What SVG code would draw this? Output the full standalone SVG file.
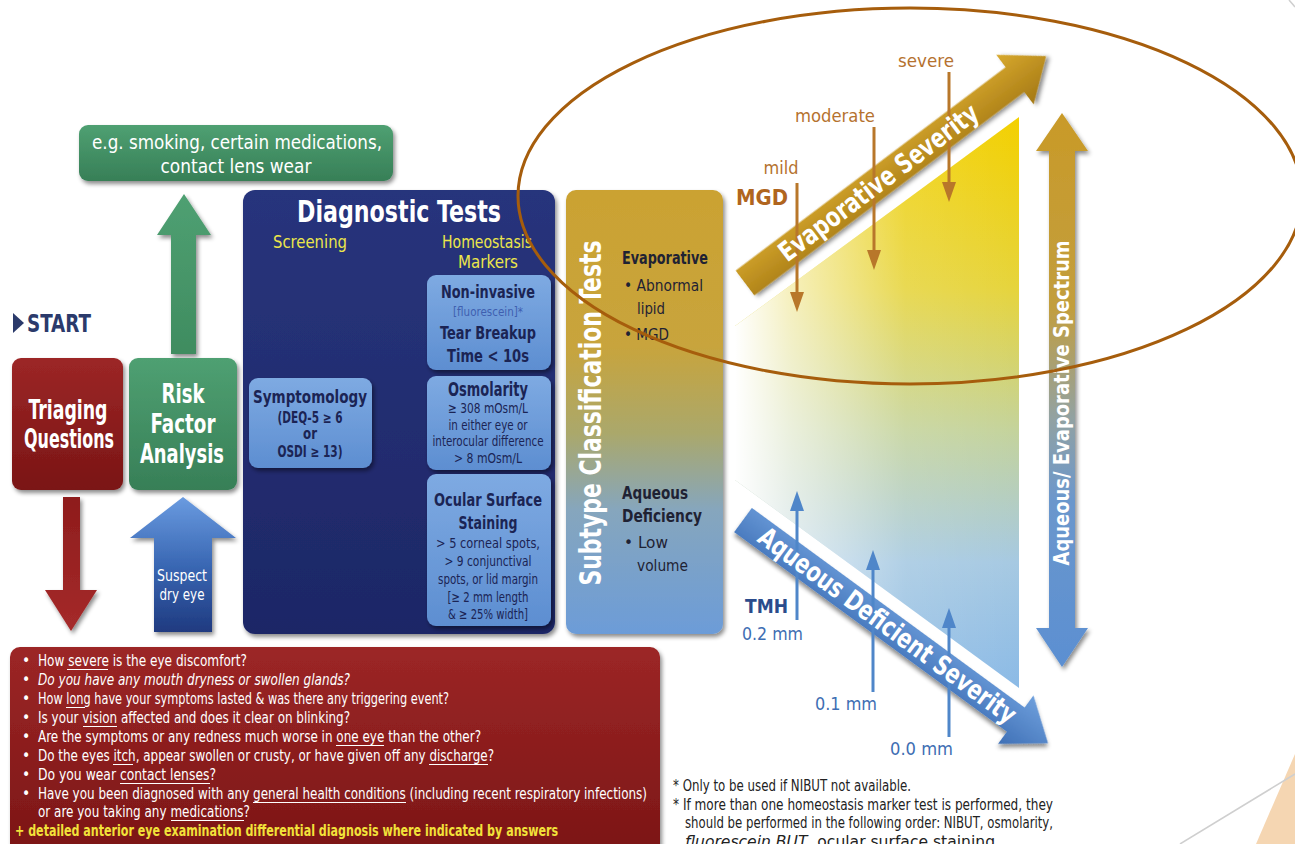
<svg xmlns="http://www.w3.org/2000/svg" width="1295" height="844" viewBox="0 0 1295 844">
<defs>
<style>
.t{font-family:"Liberation Sans Narrow","DejaVu Sans Condensed","Liberation Sans",Arial,sans-serif}
.b{font-weight:bold}
.w{fill:#ffffff}
.nv{fill:#1b2454}
.y{fill:#ece64a}
.q{font-size:15.5px;fill:#ffffff}
.fn{font-size:15px;fill:#222222}
.brn{fill:#b5722f}
.bl{fill:#3e6eb3}
.ul{stroke:#ffffff;stroke-width:1}
</style>
<filter id="sh" x="-10%" y="-10%" width="130%" height="130%"><feDropShadow dx="2" dy="3" stdDeviation="2" flood-color="#000" flood-opacity="0.45"/></filter>
<linearGradient id="gRed" x1="0" y1="0" x2="0" y2="1"><stop offset="0" stop-color="#9c2626"/><stop offset="1" stop-color="#7a1515"/></linearGradient>
<linearGradient id="gGreen" x1="0" y1="0" x2="0" y2="1"><stop offset="0" stop-color="#4fa072"/><stop offset="1" stop-color="#377f57"/></linearGradient>
<linearGradient id="gGreenA" x1="0" y1="0" x2="0" y2="1"><stop offset="0" stop-color="#4fa072"/><stop offset="1" stop-color="#3f8c60"/></linearGradient>
<linearGradient id="gNavy" x1="0" y1="0" x2="0" y2="1"><stop offset="0" stop-color="#28347c"/><stop offset="1" stop-color="#1d2766"/></linearGradient>
<linearGradient id="gLB" x1="0" y1="0" x2="0" y2="1"><stop offset="0" stop-color="#7eaae2"/><stop offset="1" stop-color="#5d8ed1"/></linearGradient>
<linearGradient id="gBlueUp" x1="0" y1="0" x2="0" y2="1"><stop offset="0" stop-color="#6a9be0"/><stop offset="0.5" stop-color="#3a68b4"/><stop offset="1" stop-color="#1f3a80"/></linearGradient>
<linearGradient id="gRedDn" x1="0" y1="0" x2="0" y2="1"><stop offset="0" stop-color="#8e1c1c"/><stop offset="1" stop-color="#a52a2a"/></linearGradient>
<linearGradient id="gSub" x1="0" y1="0" x2="0" y2="1"><stop offset="0" stop-color="#cba232"/><stop offset="0.35" stop-color="#c8a43c"/><stop offset="0.55" stop-color="#aaa86c"/><stop offset="0.72" stop-color="#86a6bd"/><stop offset="1" stop-color="#6c9cd8"/></linearGradient>
<linearGradient id="gGold" x1="0" y1="0" x2="0" y2="1"><stop offset="0" stop-color="#d8a92e"/><stop offset="1" stop-color="#a47814"/></linearGradient>
<linearGradient id="gAq" x1="0" y1="0" x2="0" y2="1"><stop offset="0" stop-color="#6e9fdc"/><stop offset="1" stop-color="#3f70b6"/></linearGradient>
<linearGradient id="gSpec" x1="0" y1="0" x2="0" y2="1"><stop offset="0" stop-color="#c99a28"/><stop offset="0.35" stop-color="#c29e3e"/><stop offset="0.55" stop-color="#92a2a2"/><stop offset="0.7" stop-color="#6b97cc"/><stop offset="1" stop-color="#5b8fd2"/></linearGradient>
<linearGradient id="gTri" gradientUnits="userSpaceOnUse" x1="0" y1="117" x2="0" y2="688"><stop offset="0" stop-color="#f3d000"/><stop offset="0.3" stop-color="#e6d43c"/><stop offset="0.55" stop-color="#c4d39c"/><stop offset="0.78" stop-color="#a6c9e2"/><stop offset="1" stop-color="#8bbae6"/></linearGradient>
<linearGradient id="gFade" gradientUnits="userSpaceOnUse" x1="735" y1="0" x2="1019" y2="0"><stop offset="0" stop-color="#fff" stop-opacity="1"/><stop offset="0.2" stop-color="#fff" stop-opacity="0.65"/><stop offset="0.6" stop-color="#fff" stop-opacity="0.12"/><stop offset="1" stop-color="#fff" stop-opacity="0"/></linearGradient>
<marker id="mBr" viewBox="0 0 20 14" markerUnits="userSpaceOnUse" markerWidth="20" markerHeight="14" refX="8" refY="7" orient="auto"><path d="M0,0 L20,7 L0,14 Z" fill="#b8772a"/></marker>
<marker id="mBl" viewBox="0 0 20 14" markerUnits="userSpaceOnUse" markerWidth="20" markerHeight="14" refX="8" refY="7" orient="auto"><path d="M0,0 L20,7 L0,14 Z" fill="#4f86c9"/></marker>
</defs>
<rect width="1295" height="844" fill="#ffffff"/>

<polygon points="1256,844 1295,754 1295,844" fill="#f5d6b2"/>
<line x1="1180" y1="844" x2="1295" y2="774" stroke="#cfcfcf" stroke-width="1.5"/>
<line x1="1289" y1="0" x2="1295" y2="7" stroke="#cfcfcf" stroke-width="1.5"/>

<g id="spectrum-area">
<polygon points="735,326 1019,117 1019,688 735,480" fill="url(#gTri)"/>
<polygon points="735,326 1019,117 1019,688 735,480" fill="url(#gFade)"/>
</g>

<g id="connectors">
<path d="M171,354 L171,235 L157,235 L184,194 L211,235 L196,235 L196,354 Z" fill="url(#gGreenA)" filter="url(#sh)"/>
<path d="M63,497 L80,497 L80,590 L97,590 L71,631 L45,590 L63,590 Z" fill="url(#gRedDn)" filter="url(#sh)"/>
<path d="M154,632 L154,538 L130,538 L183,497 L236,538 L212,538 L212,632 Z" fill="url(#gBlueUp)" filter="url(#sh)"/>
<path d="M375,406 L412,406 L412,395 L431,423 L412,452 L412,440 L375,440 Z" fill="url(#gRed)" filter="url(#sh)"/>
<g transform="translate(745,283) rotate(-37)">
<path d="M0,-15.5 L338,-15.5 L338,-31 L377,0 L338,31 L338,15.5 L0,15.5 Z" fill="url(#gGold)" filter="url(#sh)"/>
</g>
<g transform="translate(743,520) rotate(36.2)">
<path d="M0,-15 L338,-15 L338,-30 L378,0 L338,30 L338,15 L0,15 Z" fill="url(#gAq)" filter="url(#sh)"/>
</g>
<path d="M1062,113 L1088,151 L1075,151 L1075,628 L1088,628 L1062,667 L1036,628 L1049,628 L1049,151 L1036,151 Z" fill="url(#gSpec)" filter="url(#sh)"/>
<line x1="797" y1="183" x2="797" y2="300" stroke="#b8772a" stroke-width="3" marker-end="url(#mBr)"/>
<line x1="874" y1="127" x2="874" y2="258" stroke="#b8772a" stroke-width="3" marker-end="url(#mBr)"/>
<line x1="949" y1="72" x2="949" y2="190" stroke="#b8772a" stroke-width="3" marker-end="url(#mBr)"/>
<line x1="797" y1="620" x2="797" y2="503" stroke="#4f86c9" stroke-width="3" marker-end="url(#mBl)"/>
<line x1="873" y1="692" x2="873" y2="562" stroke="#4f86c9" stroke-width="3" marker-end="url(#mBl)"/>
<line x1="949" y1="737" x2="949" y2="620" stroke="#4f86c9" stroke-width="3" marker-end="url(#mBl)"/>
</g>

<g id="arrow-labels" class="t b w">
<text x="397" y="428" font-size="17" text-anchor="middle" textLength="43" lengthAdjust="spacingAndGlyphs">+1 of</text>
<text class="t" font-weight="normal" x="182" y="581" font-size="15" text-anchor="middle" textLength="50" lengthAdjust="spacingAndGlyphs">Suspect</text>
<text class="t" font-weight="normal" x="182" y="600" font-size="15" text-anchor="middle" textLength="45" lengthAdjust="spacingAndGlyphs">dry eye</text>
<text transform="translate(884,190) rotate(-37)" font-size="27" text-anchor="middle" textLength="242" lengthAdjust="spacingAndGlyphs">Evaporative Severity</text>
<text transform="translate(882,633) rotate(36.2)" font-size="27" text-anchor="middle" textLength="312" lengthAdjust="spacingAndGlyphs">Aqueous Deficient Severity</text>
<text transform="translate(1069,403) rotate(-90)" font-size="21" text-anchor="middle" textLength="325" lengthAdjust="spacingAndGlyphs">Aqueous/ Evaporative Spectrum</text>
</g>

<g id="scale-labels" class="t">
<text class="brn" x="926" y="67" font-size="17" text-anchor="middle" textLength="56" lengthAdjust="spacingAndGlyphs">severe</text>
<text class="brn" x="835" y="122" font-size="17" text-anchor="middle" textLength="80" lengthAdjust="spacingAndGlyphs">moderate</text>
<text class="brn" x="781" y="174" font-size="17" text-anchor="middle" textLength="35" lengthAdjust="spacingAndGlyphs">mild</text>
<text x="736" y="205" font-size="21" font-weight="bold" fill="#b0651e" textLength="52" lengthAdjust="spacingAndGlyphs">MGD</text>
<text x="745" y="613" font-size="20" font-weight="bold" fill="#2b4c8c" textLength="43" lengthAdjust="spacingAndGlyphs">TMH</text>
<text class="bl" x="742" y="640" font-size="17" textLength="61" lengthAdjust="spacingAndGlyphs">0.2 mm</text>
<text class="bl" x="815" y="710" font-size="17" textLength="62" lengthAdjust="spacingAndGlyphs">0.1 mm</text>
<text class="bl" x="890" y="755" font-size="17" textLength="63" lengthAdjust="spacingAndGlyphs">0.0 mm</text>
</g>

<g id="start" class="t b">
<polygon points="13,313 24,323 13,333" fill="#2b3a6b"/>
<text x="27" y="332" font-size="24" fill="#2b3a6b" textLength="64" lengthAdjust="spacingAndGlyphs">START</text>
</g>

<g id="risk-examples">
<rect x="79" y="125" width="314" height="56" rx="9" fill="url(#gGreen)" filter="url(#sh)"/>
<text class="t w" x="237" y="149" font-size="20" text-anchor="middle" textLength="290" lengthAdjust="spacingAndGlyphs">e.g. smoking, certain medications,</text>
<text class="t w" x="236" y="173" font-size="20" text-anchor="middle" textLength="151" lengthAdjust="spacingAndGlyphs">contact lens wear</text>
</g>

<g id="triaging">
<rect x="12" y="358" width="111" height="132" rx="9" fill="url(#gRed)" filter="url(#sh)"/>
<text class="t b w" x="68" y="419" font-size="26" text-anchor="middle" textLength="79" lengthAdjust="spacingAndGlyphs">Triaging</text>
<text class="t b w" x="69" y="448" font-size="26" text-anchor="middle" textLength="90" lengthAdjust="spacingAndGlyphs">Questions</text>
</g>

<g id="risk-factor">
<rect x="129" y="358" width="108" height="132" rx="9" fill="url(#gGreen)" filter="url(#sh)"/>
<text class="t b w" x="183" y="403" font-size="26" text-anchor="middle" textLength="43" lengthAdjust="spacingAndGlyphs">Risk</text>
<text class="t b w" x="183" y="433" font-size="26" text-anchor="middle" textLength="65" lengthAdjust="spacingAndGlyphs">Factor</text>
<text class="t b w" x="182" y="463" font-size="26" text-anchor="middle" textLength="84" lengthAdjust="spacingAndGlyphs">Analysis</text>
</g>

<g id="diagnostic-tests">
<rect x="243" y="190" width="312" height="444" rx="12" fill="url(#gNavy)" filter="url(#sh)"/>
<text class="t b w" x="399" y="222" font-size="30" text-anchor="middle" textLength="204" lengthAdjust="spacingAndGlyphs">Diagnostic Tests</text>
<text class="t y" x="310" y="248" font-size="18" text-anchor="middle" textLength="74" lengthAdjust="spacingAndGlyphs">Screening</text>
<text class="t y" x="487" y="248" font-size="18" text-anchor="middle" textLength="90" lengthAdjust="spacingAndGlyphs">Homeostasis</text>
<text class="t y" x="488" y="268" font-size="18" text-anchor="middle" textLength="60" lengthAdjust="spacingAndGlyphs">Markers</text>
</g>

<g id="symptomology">
<rect x="249" y="378" width="123" height="90" rx="9" fill="url(#gLB)" filter="url(#sh)"/>
<text class="t b nv" x="310" y="403" font-size="18" text-anchor="middle" textLength="114" lengthAdjust="spacingAndGlyphs">Symptomology</text>
<text class="t b nv" x="310" y="423" font-size="15" text-anchor="middle" textLength="65" lengthAdjust="spacingAndGlyphs">(DEQ-5 ≥ 6</text>
<text class="t b nv" x="310" y="439" font-size="15" text-anchor="middle" textLength="14" lengthAdjust="spacingAndGlyphs">or</text>
<text class="t b nv" x="310" y="457" font-size="15" text-anchor="middle" textLength="65" lengthAdjust="spacingAndGlyphs">OSDI ≥ 13)</text>
</g>

<g id="tbut">
<rect x="427" y="275" width="124" height="95" rx="9" fill="url(#gLB)" filter="url(#sh)"/>
<text class="t b nv" x="488" y="298" font-size="18" text-anchor="middle" textLength="94" lengthAdjust="spacingAndGlyphs">Non-invasive</text>
<text class="t" x="488" y="316" font-size="12" fill="#3f5fb0" text-anchor="middle" textLength="70" lengthAdjust="spacingAndGlyphs">[fluorescein]*</text>
<text class="t b nv" x="488" y="339" font-size="18" text-anchor="middle" textLength="96" lengthAdjust="spacingAndGlyphs">Tear Breakup</text>
<text class="t b nv" x="488" y="362" font-size="18" text-anchor="middle" textLength="82" lengthAdjust="spacingAndGlyphs">Time &lt; 10s</text>
</g>

<g id="osmolarity">
<rect x="427" y="376" width="124" height="94" rx="9" fill="url(#gLB)" filter="url(#sh)"/>
<text class="t b nv" x="488" y="396" font-size="19" text-anchor="middle" textLength="80" lengthAdjust="spacingAndGlyphs">Osmolarity</text>
<text class="t nv" x="488" y="413" font-size="14" text-anchor="middle" textLength="80" lengthAdjust="spacingAndGlyphs">≥ 308 mOsm/L</text>
<text class="t nv" x="488" y="430" font-size="14" text-anchor="middle" textLength="79" lengthAdjust="spacingAndGlyphs">in either eye or</text>
<text class="t nv" x="488" y="446" font-size="14" text-anchor="middle" textLength="111" lengthAdjust="spacingAndGlyphs">interocular difference</text>
<text class="t nv" x="488" y="463" font-size="14" text-anchor="middle" textLength="68" lengthAdjust="spacingAndGlyphs">&gt; 8 mOsm/L</text>
</g>

<g id="staining">
<rect x="427" y="474" width="124" height="152" rx="9" fill="url(#gLB)" filter="url(#sh)"/>
<text class="t b nv" x="488" y="506" font-size="18" text-anchor="middle" textLength="108" lengthAdjust="spacingAndGlyphs">Ocular Surface</text>
<text class="t b nv" x="488" y="529" font-size="18" text-anchor="middle" textLength="59" lengthAdjust="spacingAndGlyphs">Staining</text>
<text class="t nv" x="488" y="548" font-size="14" text-anchor="middle" textLength="104" lengthAdjust="spacingAndGlyphs">&gt; 5 corneal spots,</text>
<text class="t nv" x="488" y="566" font-size="14" text-anchor="middle" textLength="87" lengthAdjust="spacingAndGlyphs">&gt; 9 conjunctival</text>
<text class="t nv" x="488" y="584" font-size="14" text-anchor="middle" textLength="100" lengthAdjust="spacingAndGlyphs">spots, or lid margin</text>
<text class="t nv" x="488" y="602" font-size="14" text-anchor="middle" textLength="81" lengthAdjust="spacingAndGlyphs">[≥ 2 mm length</text>
<text class="t nv" x="488" y="619" font-size="14" text-anchor="middle" textLength="80" lengthAdjust="spacingAndGlyphs">&amp; ≥ 25% width]</text>
</g>

<g id="subtype">
<rect x="566" y="190" width="157" height="444" rx="10" fill="url(#gSub)" filter="url(#sh)"/>
<text class="t b w" transform="translate(601,413) rotate(-90)" font-size="31" text-anchor="middle" textLength="345" lengthAdjust="spacingAndGlyphs">Subtype Classification Tests</text>
<text class="t b" x="622" y="264" font-size="17" fill="#1f2233" textLength="86" lengthAdjust="spacingAndGlyphs">Evaporative</text>
<text class="t" x="624" y="291" font-size="16" fill="#1f2233" textLength="79" lengthAdjust="spacingAndGlyphs">• Abnormal</text>
<text class="t" x="637" y="314" font-size="16" fill="#1f2233" textLength="28" lengthAdjust="spacingAndGlyphs">lipid</text>
<text class="t" x="624" y="340" font-size="16" fill="#1f2233" textLength="45" lengthAdjust="spacingAndGlyphs">• MGD</text>
<text class="t b" x="622" y="499" font-size="17" fill="#1f2233" textLength="66" lengthAdjust="spacingAndGlyphs">Aqueous</text>
<text class="t b" x="622" y="522" font-size="17" fill="#1f2233" textLength="80" lengthAdjust="spacingAndGlyphs">Deficiency</text>
<text class="t" x="624" y="548" font-size="16" fill="#1f2233" textLength="44" lengthAdjust="spacingAndGlyphs">• Low</text>
<text class="t" x="637" y="571" font-size="16" fill="#1f2233" textLength="51" lengthAdjust="spacingAndGlyphs">volume</text>
</g>

<g id="questions">
<rect x="10" y="647" width="650" height="215" rx="10" fill="url(#gRed)" filter="url(#sh)"/>
<g class="t q">
<text x="22" y="666">•</text><text x="38" y="666" textLength="209" lengthAdjust="spacingAndGlyphs">How severe is the eye discomfort?</text>
<text x="22" y="685">•</text><text x="38" y="685" font-style="italic" textLength="312" lengthAdjust="spacingAndGlyphs">Do you have any mouth dryness or swollen glands?</text>
<text x="22" y="704">•</text><text x="38" y="704" textLength="411" lengthAdjust="spacingAndGlyphs">How long have your symptoms lasted &amp; was there any triggering event?</text>
<text x="22" y="723">•</text><text x="38" y="723" textLength="312" lengthAdjust="spacingAndGlyphs">Is your vision affected and does it clear on blinking?</text>
<text x="22" y="742">•</text><text x="38" y="742" textLength="443" lengthAdjust="spacingAndGlyphs">Are the symptoms or any redness much worse in one eye than the other?</text>
<text x="22" y="761">•</text><text x="38" y="761" textLength="456" lengthAdjust="spacingAndGlyphs">Do the eyes itch, appear swollen or crusty, or have given off any discharge?</text>
<text x="22" y="780">•</text><text x="38" y="780" textLength="178" lengthAdjust="spacingAndGlyphs">Do you wear contact lenses?</text>
<text x="22" y="799">•</text><text x="38" y="799" textLength="609" lengthAdjust="spacingAndGlyphs">Have you been diagnosed with any general health conditions (including recent respiratory infections)</text>
<text x="38" y="817" textLength="212" lengthAdjust="spacingAndGlyphs">or are you taking any medications?</text>
<text x="15" y="836" font-weight="bold" fill="#f2e23a" textLength="543" lengthAdjust="spacingAndGlyphs">+ detailed anterior eye examination differential diagnosis where indicated by answers</text>
</g>
<g class="ul">
<line x1="67" y1="669.5" x2="108" y2="669.5"/>
<line x1="66" y1="707.5" x2="85" y2="707.5"/>
<line x1="83" y1="726.5" x2="117" y2="726.5"/>
<line x1="336" y1="745.5" x2="384" y2="745.5"/>
<line x1="113" y1="764.5" x2="133" y2="764.5"/>
<line x1="429" y1="764.5" x2="488" y2="764.5"/>
<line x1="120" y1="783.5" x2="210" y2="783.5"/>
<line x1="253" y1="802.5" x2="406" y2="802.5"/>
<line x1="171" y1="820.5" x2="244" y2="820.5"/>
</g>
</g>

<g id="footnotes" class="t fn">
<text x="673" y="791" textLength="238" lengthAdjust="spacingAndGlyphs">* Only to be used if NIBUT not available.</text>
<text x="673" y="810" textLength="380" lengthAdjust="spacingAndGlyphs">* If more than one homeostasis marker test is performed, they</text>
<text x="685" y="828" textLength="368" lengthAdjust="spacingAndGlyphs">should be performed in the following order: NIBUT, osmolarity,</text>
<text x="685" y="847" textLength="315" lengthAdjust="spacingAndGlyphs"><tspan font-style="italic">fluorescein BUT</tspan>, ocular surface staining.</text>
</g>

<g id="highlight">
<ellipse cx="910" cy="196" rx="392" ry="188" fill="none" stroke="#a65d0c" stroke-width="3"/>
</g>
</svg>
